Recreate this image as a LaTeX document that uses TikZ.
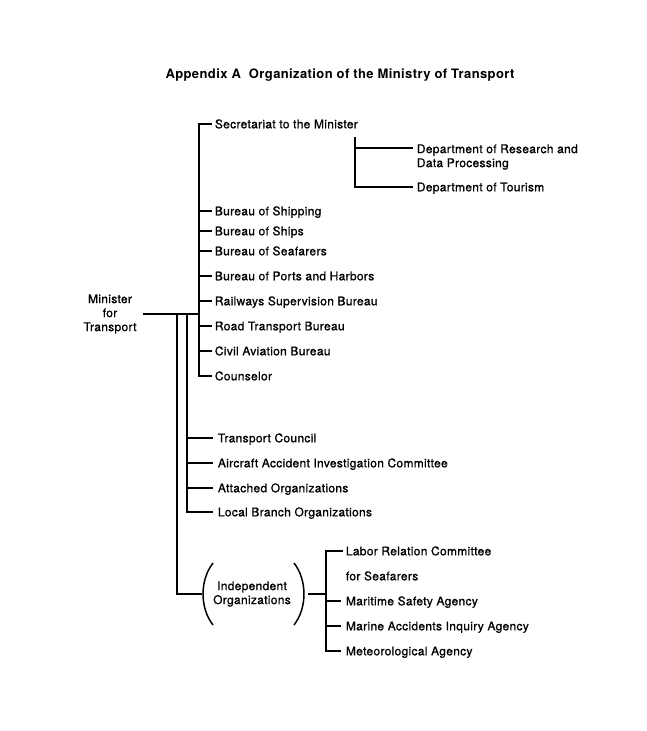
\documentclass[tikz,border=0pt]{standalone}
\usepackage{fontspec}
\setmainfont{TeX Gyre Heros}[LetterSpace=2.5, FakeBold=0.9]
\newfontfamily\titlefont{TeX Gyre Heros}[LetterSpace=3]
\begin{document}
\begin{tikzpicture}[x=1pt,y=-1pt,
  line width=1.8pt, line join=miter,
  lbl/.style={anchor=west, inner sep=0pt, font=\fontsize{12}{14}\selectfont, text height=8.6pt, text depth=0pt},
  ml/.style={inner sep=0pt, font=\fontsize{12}{14}\selectfont},
  conn/.style={shorten >=2pt},
  ttl/.style={inner sep=0pt, font=\titlefont\bfseries\fontsize{13}{15}\selectfont}]
\useasboundingbox[fill=white] (0,0) rectangle (647,731);

\node[ttl] (title) at (340,75) {Appendix A\ \ Organization of the Ministry of Transport};

% bus coordinates
\coordinate (busA) at (199,0);
\coordinate (busB) at (187,0);
\coordinate (busC) at (177,0);
\coordinate (busD) at (326,0);
\coordinate (busE) at (355,0);

\node[ml, align=center] (min) at (110,314) {Minister\\for\\Transport};

\node[lbl] (sec) at (214,124) {Secretariat to the Minister};
\node[ml, align=left, anchor=north west] (res) at (416,143.4) {Department of Research and\\Data Processing};
\node[lbl] (tour) at (416,187) {Department of Tourism};

\node[lbl] (ship) at (214,211) {Bureau of Shipping};
\node[lbl] (ships) at (214,231) {Bureau of Ships};
\node[lbl] (seaf) at (214,251) {Bureau of Seafarers};
\node[lbl] (ports) at (214,276) {Bureau of Ports and Harbors};
\node[lbl] (rail) at (214,301) {Railways Supervision Bureau};
\node[lbl] (road) at (214,326) {Road Transport Bureau};
\node[lbl] (civil) at (214,351) {Civil Aviation Bureau};
\node[lbl] (coun) at (214,376) {Counselor};

\node[lbl] (tc) at (217,438) {Transport Council};
\node[lbl] (aaic) at (217,463) {Aircraft Accident Investigation Committee};
\node[lbl] (att) at (217,488) {Attached Organizations};
\node[lbl] (local) at (217,512) {Local Branch Organizations};

\node[ml, align=center] (ind) at (252,594) {Independent\\Organizations};
\coordinate (lp) at (203,594);
\coordinate (rp) at (305,594);

\node[lbl] (labor) at (345,551) {Labor Relation Committee};
\node[lbl] (labor2) at (345,576) {for Seafarers};
\node[lbl] (msa) at (345,601) {Maritime Safety Agency};
\node[lbl] (mai) at (345,626) {Marine Accidents Inquiry Agency};
\node[lbl] (met) at (345,651) {Meteorological Agency};

% minister to bus A
\draw[shorten <=6pt] (min.east |- 0,314) -- (busA |- 0,314);

% bus A
\draw[shorten <=2pt, shorten >=2pt] (sec.west) -- (sec.west -| busA) -- (coun.west -| busA) -- (coun.west);
\foreach \n in {ship,ships,seaf,ports,rail,road,civil}
  \draw[conn] (\n.west -| busA) -- (\n.west);

% secretariat sub-bus
\coordinate (resl1) at ([yshift=-4.6pt]res.north west);
\draw[shorten >=3pt] ([yshift=-13pt]sec.west -| busE) -- (tour.west -| busE) -- (tour.west);
\draw[shorten >=3pt] (resl1 -| busE) -- (resl1);

% bus B
\draw[shorten >=4pt] (busB |- 0,314) -- (local.west -| busB) -- (local.west);
\foreach \n in {tc,aaic,att}
  \draw[shorten >=4pt] (\n.west -| busB) -- (\n.west);

% bus C
\draw (busC |- 0,314) -- (lp -| busC) -- ([xshift=-1pt]lp);

% parentheses
\draw[line width=1.5pt] (213,563) .. controls (199.7,580) and (199.7,608) .. (213,625);
\draw[line width=1.5pt] (294,563) .. controls (307.3,580) and (307.3,608) .. (294,625);

% bus D
\draw[shorten <=3pt] (rp) -- (rp -| busD);
\draw[shorten <=2pt, shorten >=4pt] (labor.west) -- (labor.west -| busD) -- (met.west -| busD) -- (met.west);
\foreach \n in {msa,mai}
  \draw[shorten >=4pt] (\n.west -| busD) -- (\n.west);
\end{tikzpicture}
\end{document}
